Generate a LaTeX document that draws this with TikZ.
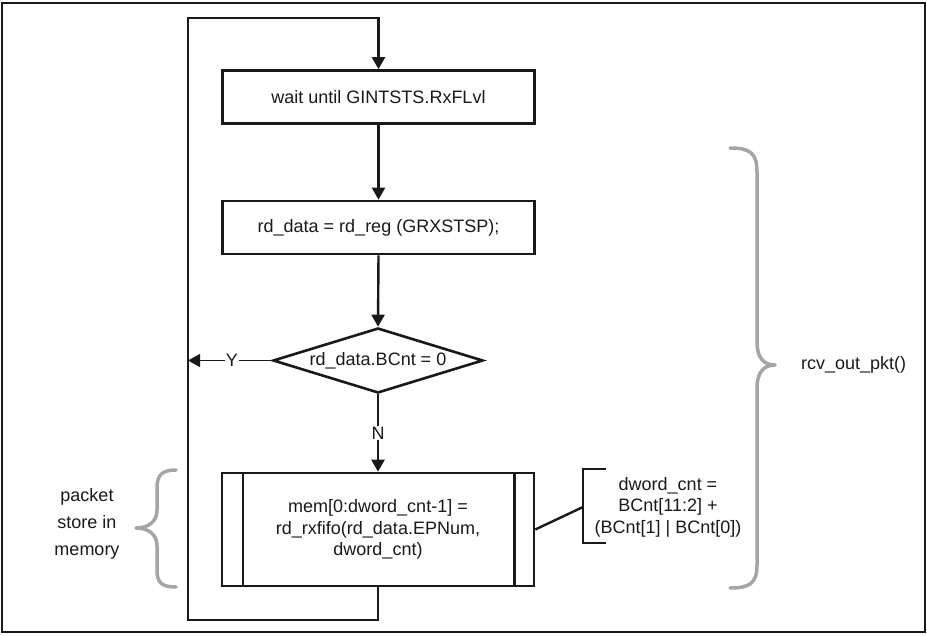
\documentclass[tikz,border=0pt]{standalone}
\usepackage{fontspec}
\setmainfont{Liberation Sans}
\usetikzlibrary{arrows.meta,shapes.geometric}
\definecolor{bracegray}{RGB}{165,165,165}
\definecolor{ink}{RGB}{25,25,25}
\tikzset{
  txt/.style={font=\fontsize{18}{21.5}\selectfont, text=ink},
  procbox/.style={txt, draw=ink, line width=2.6pt, minimum width=312pt, minimum height=53pt, inner sep=0pt, align=center},
  decbox/.style={txt, draw=ink, line width=2.6pt, shape=diamond, aspect=3.2, minimum width=210pt, minimum height=65pt, inner sep=0pt},
  flow/.style={draw=ink, line width=2.4pt, -{Triangle[length=12pt,width=13pt]}},
  plainline/.style={draw=ink, line width=2.4pt},
  thinline/.style={draw=ink, line width=1.2pt},
  bracestyle/.style={draw=bracegray, line width=3.5pt, line cap=round, line join=round},
  lbl/.style={txt, inner sep=1pt, align=center}
}
\begin{document}
\begin{tikzpicture}[x=1pt,y=-1pt]
\useasboundingbox (0,0) rectangle (927,635);
% outer frame
\draw[ink, line width=1.5pt] (2,3) rectangle (925,632);

% nodes
\node[procbox] (box1) at (378.5,97) {wait until GINTSTS.RxFLvl};
\node[procbox] (box2) at (378.5,227.5) {rd\_data = rd\_reg (GRXSTSP);};
\node[decbox] (dia) at (378,360.5) {rd\_data.BCnt = 0};
\node[lbl] (ylab) at (232,360.5) {Y};
\node[lbl] (nlab) at (378,433) {N};
\node[procbox, minimum height=113pt] (box3) at (378,529.5)
  {mem[0:dword\_cnt-1] =\\ rd\_rxfifo(rd\_data.EPNum,\\ dword\_cnt)};
\draw[ink, line width=2.4pt] ([xshift=22pt]box3.north west) -- ([xshift=22pt]box3.south west);
\draw[ink, line width=2.4pt] ([xshift=-21pt]box3.north east) -- ([xshift=-21pt]box3.south east);

\node[lbl] (cnt) at (668,507) {dword\_cnt =\\ BCnt[11:2] +\\ (BCnt[1] | BCnt[0])};
\node[lbl, anchor=west] (rcv) at (800,365) {rcv\_out\_pkt()};
\node[lbl, align=center, font=\fontsize{18}{27}\selectfont] (pkt) at (87,524) {packet\\ store in\\ memory};

% coordinates
\coordinate (loopbot) at (378,620);
\coordinate (loopleft) at (188,620);
\coordinate (looptop) at (188,18);
\coordinate (yend) at (188,360.5);
\coordinate (brk) at (583,507);

% connectors
\draw[flow] (box1.south) -- (box2.north);
\draw[flow] (box2.south) -- (dia.north);
\draw[thinline] (dia.west) -- (ylab.east);
\draw[flow, line width=1.2pt] (ylab.west) -- (yend);
\draw[plainline] (dia.south) -- (nlab.north);
\draw[flow] (nlab.south) -- (box3.north);
\draw[flow] (box3.south) -- (loopbot) -- (loopleft) -- (looptop) -| (box1.north);
\draw[plainline] (box3.east) -- (brk);
\draw[ink, line width=2.4pt] (606,469) -- (583,469) -- (583,543) -- (606,543);

% braces
\draw[bracestyle] (730,148) .. controls (750,148) and (757,153) .. (757,172)
  -- (757,342) .. controls (757,358) and (764,365) .. (775,365)
  .. controls (764,365) and (757,372) .. (757,388)
  -- (757,565) .. controls (757,583) and (750,588) .. (730,588);
\draw[bracestyle] (176,470) .. controls (162,470) and (157,475) .. (157,488)
  -- (157,510) .. controls (157,522) and (148,528) .. (136,528)
  .. controls (148,528) and (157,534) .. (157,546)
  -- (157,570) .. controls (157,583) and (162,587) .. (176,587);
\end{tikzpicture}
\end{document}
